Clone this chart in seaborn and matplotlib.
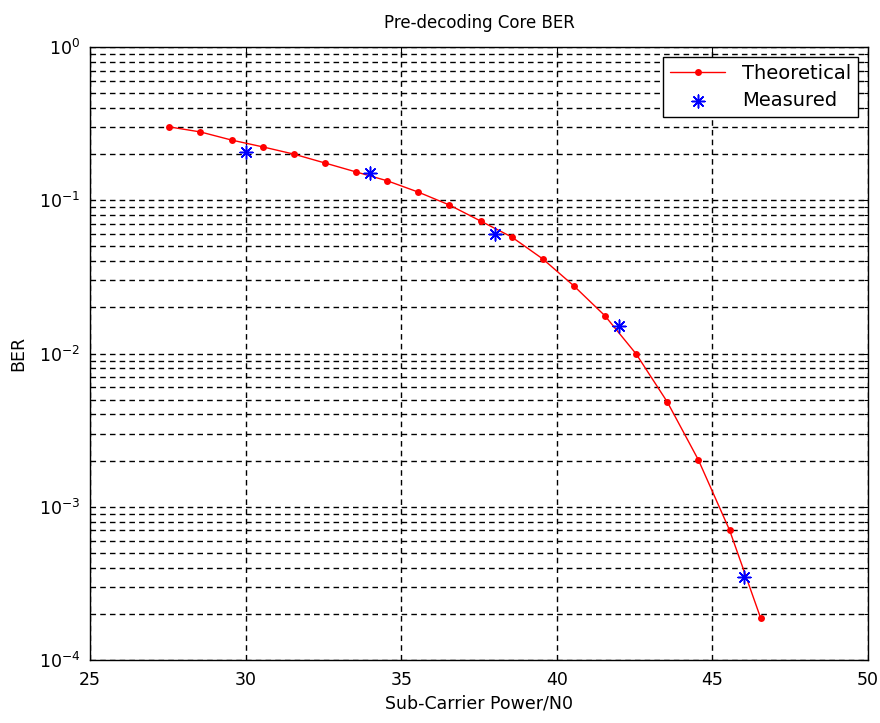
import numpy as np
import pandas as pd
import matplotlib
matplotlib.use("Agg")
import matplotlib.pyplot as plt
import seaborn as sns

# Data
theo_x = [27.55, 28.55, 29.55, 30.55, 31.55, 32.55, 33.55, 34.55, 35.55, 36.55,
          37.55, 38.55, 39.55, 40.55, 41.55, 42.55, 43.55, 44.55, 45.55, 46.55]
theo_ber = [0.301, 0.279, 0.247, 0.223, 0.200, 0.175, 0.153, 0.134, 0.113, 0.0931,
            0.0732, 0.0576, 0.0414, 0.0276, 0.0176, 0.00993, 0.00483, 0.00202,
            0.000705, 0.000188]
meas_x = [30, 34, 38, 42, 46]
meas_ber = [0.206, 0.151, 0.0602, 0.0151, 0.000348]

title = "Pre-decoding Core BER"
xlabel = "Sub-Carrier Power/N0"
ylabel = "BER"

sns.set_style("white")
plt.rcParams['font.family'] = ['DejaVu Sans']
plt.rcParams['text.color'] = 'black'
plt.rcParams['axes.labelcolor'] = 'black'
plt.rcParams['xtick.color'] = 'black'
plt.rcParams['ytick.color'] = 'black'

fig = plt.figure(figsize=(8.8, 7.23), dpi=100)
ax = fig.add_axes([90/880, 1 - 660/723, (868-90)/880, (660-47)/723])

df_t = pd.DataFrame({"x": theo_x, "ber": theo_ber})
df_m = pd.DataFrame({"x": meas_x, "ber": meas_ber})

sns.lineplot(data=df_t, x="x", y="ber", ax=ax, color="#ff0000", lw=1.0,
             marker="o", markersize=5, markeredgewidth=0, label="Theoretical", zorder=3)
sns.scatterplot(data=df_m, x="x", y="ber", ax=ax, color="#0000ff", marker=(8, 2, 0),
                s=85, linewidth=1.1, edgecolor="#0000ff", label="Measured", zorder=4)

ax.set_yscale("log")
ax.set_xlim(25, 50)
ax.set_ylim(1e-4, 1)
ax.set_xticks([25, 30, 35, 40, 45, 50])

grid_kw = dict(color="black", linestyle=(0, (4, 3)), linewidth=1.0)
ax.grid(True, which="major", axis="x", **grid_kw)
ax.grid(True, which="both", axis="y", **grid_kw)

ax.tick_params(axis="both", which="both", direction="in", top=True, right=True,
               colors="black", labelsize=12.5)
ax.tick_params(which="major", length=6, width=0.8)
ax.tick_params(which="minor", length=3, width=0.8)
ax.tick_params(axis="x", pad=8)
ax.tick_params(axis="y", pad=7)
for s in ax.spines.values():
    s.set_color("black")
    s.set_linewidth(1.0)

ax.set_title(title, fontsize=12, pad=14, color="black")
ax.set_xlabel(xlabel, fontsize=12.5, labelpad=4)
ax.set_ylabel(ylabel, fontsize=12.5, labelpad=8)

leg = ax.legend(loc="upper right", fontsize=14, frameon=True, fancybox=False,
                framealpha=1, edgecolor="black", borderaxespad=0.5,
                handlelength=2.8, labelspacing=0.45, borderpad=0.35,
                handletextpad=0.9)
leg.get_frame().set_linewidth(1.0)
for t in leg.get_texts():
    t.set_color("black")

fig.savefig("out.png", dpi=100)
